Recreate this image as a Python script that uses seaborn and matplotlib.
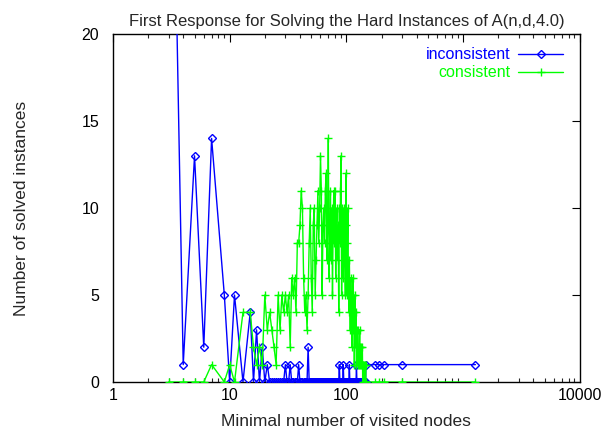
import matplotlib
matplotlib.use("Agg")
import matplotlib.pyplot as plt
import matplotlib.ticker as mticker
import seaborn as sns
import pandas as pd

# ---- data -------------------------------------------------------------
nodes = [3, 4, 5, 6, 7, 9, 10, 11, 13,
         15, 16, 17, 18, 19, 20, 21, 22, 23, 24,
         25, 26, 27, 28, 29, 30, 31, 32, 33, 34,
         35, 36, 37, 38, 39, 40, 41, 42, 43, 44,
         45, 46, 47, 48, 49, 50, 51, 52, 53, 54,
         55, 56, 57, 58, 59, 60, 61, 62, 63, 64,
         65, 66, 67, 68, 69, 70, 71, 72, 73, 74,
         75, 76, 77, 78, 79, 80, 81, 82, 83, 84,
         85, 86, 87, 88, 89, 90, 91, 92, 93, 94,
         95, 96, 97, 98, 99, 100, 101, 102, 103, 104,
         105, 106, 107, 108, 109, 110, 111, 112, 113, 114,
         115, 116, 117, 118, 119, 120, 121, 122, 123, 124,
         125, 126, 127, 128, 129, 130, 131, 132, 133, 134,
         135, 136, 137, 138, 139, 140, 141, 142, 143, 144,
         145, 146, 147,
         175, 190, 212, 302, 1274]

inconsistent = [46, 1, 13, 2, 14, 5, 0, 5, 0,
                4, 0, 3, 0, 2, 0, 1, 0, 0, 0,
                0, 0, 0, 0, 0, 1, 0, 0, 1, 0,
                0, 0, 0, 0, 1, 0, 0, 0, 0, 0,
                0, 0, 2, 0, 0, 0, 0, 0, 0, 0,
                0, 0, 0, 0, 0, 0, 0, 0, 0, 0,
                0, 0, 0, 0, 0, 0, 0, 0, 0, 0,
                0, 0, 0, 0, 0, 0, 0, 0, 0, 0,
                0, 0, 1, 0, 0, 0, 0, 0, 0, 1,
                0, 0, 0, 0, 0, 0, 0, 0, 0, 0,
                0, 1, 0, 0, 0, 0, 0, 0, 0, 0,
                0, 0, 0, 0, 0, 0, 0, 1, 0, 0,
                0, 0, 0, 0, 0, 0, 0, 0, 0, 0,
                0, 0, 0, 0, 0, 0, 0, 0, 0, 0,
                0, 0, 1,
                1, 1, 1, 1, 1]

consistent = [0, 0, 0, 0, 1, 0, 1, 0, 4,
              4, 2, 1, 2, 1, 5, 3, 4, 3, 2,
              1, 5, 3, 5, 4, 5, 4, 5, 2, 6,
              5, 6, 4, 8, 8, 9, 11, 10, 6, 4,
              5, 3, 5, 8, 10, 6, 4, 9, 10, 5,
              7, 9, 11, 8, 10, 13, 11, 5, 9, 10,
              8, 11, 12, 7, 9, 14, 6, 8, 11, 7,
              10, 5, 9, 11, 8, 11, 6, 9, 10, 7,
              9, 4, 10, 8, 11, 13, 5, 10, 9, 6,
              10, 8, 7, 5, 12, 9, 5, 8, 10, 6,
              4, 7, 5, 3, 6, 4, 5, 2, 5, 6,
              3, 4, 1, 5, 3, 2, 4, 1, 3, 2,
              3, 1, 2, 1, 2, 3, 1, 2, 1, 2,
              1, 1, 2, 0, 1, 1, 0, 1, 0, 1,
              0, 1, 0,
              0, 0, 0, 0, 0]

x_ticks = [1, 10, 100, 1000, 10000]
x_tick_labels = ["1", "10", "100", "", "10000"]
y_ticks = [0, 5, 10, 15, 20]

df = pd.DataFrame({"nodes": nodes,
                   "inconsistent": inconsistent,
                   "consistent": consistent})

# ---- style ------------------------------------------------------------
sns.set_style("white")
plt.rcParams["font.family"] = ["Liberation Sans", "DejaVu Sans"]

BLUE = "#0000ff"
GREEN = "#00ff00"

fig = plt.figure(figsize=(6.04, 4.30), dpi=100)
ax = fig.add_axes([0.187, 0.1116, 0.773, 0.8093])

sns.lineplot(data=df, x="nodes", y="inconsistent", ax=ax, color=BLUE,
             lw=1.0, marker="D", markersize=4, markerfacecolor="none",
             markeredgecolor=BLUE, markeredgewidth=1.0,
             label="inconsistent", zorder=3)
sns.lineplot(data=df, x="nodes", y="consistent", ax=ax, color=GREEN,
             lw=1.0, marker="+", markersize=6,
             markeredgecolor=GREEN, markeredgewidth=1.0,
             label="consistent", zorder=4)

ax.set_xscale("log")
ax.set_xlim(1, 10000)
ax.set_ylim(0, 20)

ax.xaxis.set_major_locator(mticker.FixedLocator(x_ticks))
ax.xaxis.set_major_formatter(mticker.FixedFormatter(x_tick_labels))
ax.xaxis.set_minor_locator(mticker.LogLocator(base=10, subs=range(2, 10)))
ax.xaxis.set_minor_formatter(mticker.NullFormatter())
ax.set_yticks(y_ticks)

ax.tick_params(axis="both", which="major", direction="in", length=6,
               width=0.8, top=True, right=True, labelsize=11.5, colors="black")
ax.tick_params(axis="x", which="major", pad=4)
ax.tick_params(axis="y", which="major", pad=10)
ax.tick_params(axis="x", which="minor", direction="in", length=3,
               width=0.8, top=True, bottom=True)

for sp in ax.spines.values():
    sp.set_color("black")
    sp.set_linewidth(1.0)
    sp.set_visible(True)

ax.set_title("First Response for Solving the Hard Instances of A(n,d,4.0)",
             fontsize=12, pad=6)
ax.set_xlabel("Minimal number of visited nodes", fontsize=12.5, labelpad=8)
ax.set_ylabel("Number of solved instances", fontsize=12.5, labelpad=38)

leg = ax.legend(loc="upper right", bbox_to_anchor=(0.964, 0.962),
                frameon=False, markerfirst=False,
                labelcolor="linecolor", fontsize=11.5, handlelength=2.8,
                handletextpad=0.5, borderaxespad=0.0, borderpad=0.0,
                labelspacing=0.2)

fig.savefig("out.png", dpi=100)
